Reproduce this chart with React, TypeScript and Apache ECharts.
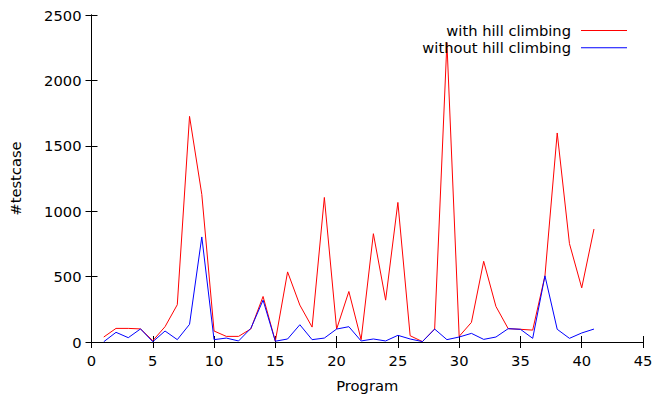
import React, { useEffect, useRef } from "react";
import * as echarts from "echarts";

const programs = [1, 2, 3, 4, 5, 6, 7, 8, 9, 10, 11, 12, 13, 14, 15, 16, 17, 18, 19, 20, 21, 22, 23, 24, 25, 26, 27, 28, 29, 30, 31, 32, 33, 34, 35, 36, 37, 38, 39, 40, 41];
const withHill = [38, 104, 104, 100, 10, 117, 285, 1725, 1128, 84, 43, 43, 100, 348, 6, 536, 282, 114, 1105, 99, 386, 18, 828, 320, 1067, 48, 3, 99, 2290, 43, 150, 617, 272, 102, 97, 91, 506, 1598, 752, 414, 864];
const withoutHill = [2, 74, 33, 100, 2, 84, 18, 135, 803, 18, 30, 8, 104, 320, 6, 23, 132, 18, 30, 99, 117, 8, 23, 8, 51, 23, 3, 99, 18, 38, 66, 20, 38, 102, 97, 28, 506, 97, 28, 69, 99];
const seriesNames = ["with hill climbing", "without hill climbing"];
const xTicks = { min: 0, max: 45, interval: 5 };
const yTicks = { min: 0, max: 2500, interval: 500 };

const FONT = "DejaVu Sans";
const FS = 14.7;

export default function App() {
  const ref = useRef<HTMLDivElement>(null);
  useEffect(() => {
    if (!ref.current) return;
    const chart = echarts.init(ref.current, undefined, { renderer: "svg" });
    const axisLine = { show: true, lineStyle: { color: "#000", width: 1 } };
    const tick = { show: true, inside: true, length: 6, lineStyle: { color: "#000", width: 1 } };
    const plain = (v: number) => String(v);
    chart.setOption({
      animation: false,
      backgroundColor: "#fff",
      textStyle: { fontFamily: FONT },
      grid: { left: 91, right: 13, top: 15, bottom: 55, containLabel: false },
      legend: {
        orient: "vertical",
        align: "right",
        right: 24,
        top: 18,
        icon: "rect",
        itemWidth: 46,
        itemHeight: 1,
        itemGap: 2.3,
        selectedMode: false,
        textStyle: { fontFamily: FONT, fontSize: FS, color: "#000", padding: [0, 5, 0, 0] },
        data: seriesNames,
      },
      xAxis: [
        {
          type: "value",
          ...xTicks,
          position: "bottom",
          name: "Program",
          nameLocation: "middle",
          nameGap: 36,
          nameTextStyle: { fontFamily: FONT, fontSize: FS, color: "#000" },
          axisLine,
          axisTick: tick,
          axisLabel: { fontFamily: FONT, fontSize: FS, color: "#000", margin: 11, formatter: plain },
          splitLine: { show: false },
        },
        {
          type: "value",
          ...xTicks,
          position: "top",
          axisLine,
          axisTick: tick,
          axisLabel: { show: false },
          splitLine: { show: false },
        },
      ],
      yAxis: [
        {
          type: "value",
          ...yTicks,
          position: "left",
          name: "#testcase",
          nameLocation: "middle",
          nameGap: 68.5,
          nameRotate: 90,
          nameTextStyle: { fontFamily: FONT, fontSize: FS, color: "#000" },
          axisLine,
          axisTick: tick,
          axisLabel: { fontFamily: FONT, fontSize: FS, color: "#000", margin: 10, formatter: plain },
          splitLine: { show: false },
        },
        {
          type: "value",
          ...yTicks,
          position: "right",
          axisLine,
          axisTick: tick,
          axisLabel: { show: false },
          splitLine: { show: false },
        },
      ],
      series: [
        {
          name: seriesNames[0],
          type: "line",
          symbol: "none",
          color: "#ff0000",
          lineStyle: { color: "#ff0000", width: 1 },
          data: programs.map((p, i) => [p, withHill[i]]),
          z: 2,
        },
        {
          name: seriesNames[1],
          type: "line",
          symbol: "none",
          color: "#0000ff",
          lineStyle: { color: "#0000ff", width: 1 },
          data: programs.map((p, i) => [p, withoutHill[i]]),
          z: 3,
        },
      ],
    });
    return () => chart.dispose();
  }, []);
  return <div ref={ref} style={{ width: 656, height: 398, position: "absolute", left: 0, top: 0 }} />;
}
